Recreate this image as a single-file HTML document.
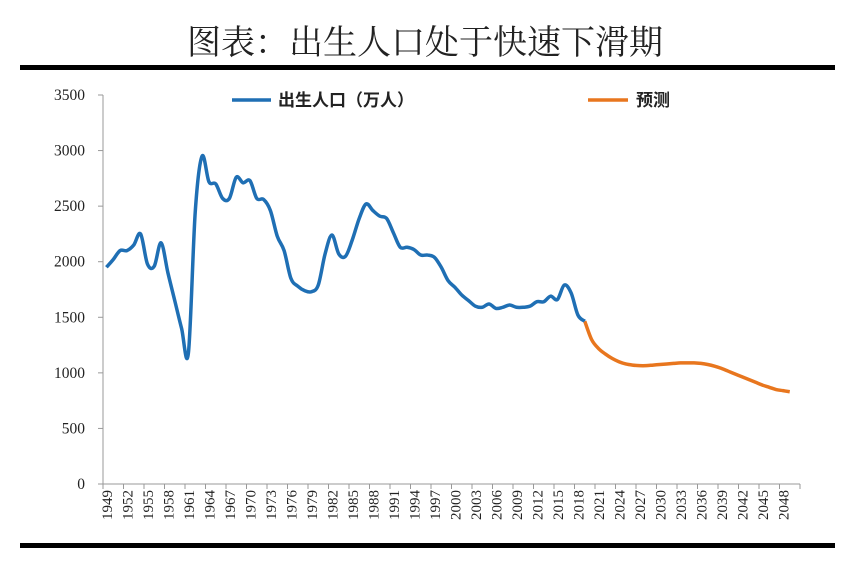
<!DOCTYPE html>
<html><head><meta charset="utf-8"><style>
body{margin:0;background:#fff;width:865px;height:563px;overflow:hidden}
svg{display:block}
</style></head><body>
<svg width="865" height="563" xmlns="http://www.w3.org/2000/svg">
<text x="425" y="54" text-anchor="middle" font-family="'Noto Serif CJK SC',serif" font-size="34" fill="#222">图表：出生人口处于快速下滑期</text>
<rect x="20" y="65" width="815" height="5" fill="#000"/>
<rect x="20" y="543" width="815" height="5" fill="#000"/>
<g id="axes"></g>
<g id="marks"></g>
<g>
<line x1="232" y1="100" x2="271" y2="100" stroke="#1f6fb4" stroke-width="3.5"/>
<text x="278" y="106" font-family="'Liberation Sans','Noto Sans CJK SC',sans-serif" font-weight="bold" font-size="17" fill="#222">出生人口（万人）</text>
<line x1="588" y1="100" x2="628" y2="100" stroke="#e8761e" stroke-width="3.5"/>
<text x="636" y="106" font-family="'Liberation Sans','Noto Sans CJK SC',sans-serif" font-weight="bold" font-size="17" fill="#222">预测</text>
</g>
</svg>
<script>
const startYear = 1949;
const endYear = 2050;
const yTicks = [0,500,1000,1500,2000,2500,3000,3500];
const births = [1950,2020,2100,2100,2150,2250,1980,1960,2170,1900,1650,1400,1180,2450,2950,2720,2700,2570,2570,2760,2710,2730,2570,2560,2460,2230,2100,1850,1780,1740,1730,1790,2070,2240,2070,2050,2200,2390,2520,2460,2410,2390,2260,2130,2130,2110,2060,2060,2040,1950,1830,1770,1700,1650,1600,1590,1620,1580,1590,1610,1590,1590,1600,1640,1640,1690,1660,1790,1720,1520,1465];
const forecastStart = 2019;
const forecast = [1465,1300,1220,1170,1130,1100,1080,1070,1065,1065,1070,1075,1080,1085,1090,1090,1090,1085,1075,1060,1040,1015,990,965,940,915,890,870,850,840,830];

const NS='http://www.w3.org/2000/svg';
const L=103,R=800,T=95,B=484,yMax=3500;
const n=endYear-startYear+1, bw=(R-L)/n;
const xs=yr=>L+(yr-startYear+0.5)*bw;
const ys=v=>B-v/yMax*(B-T);
function mk(tag,attrs,parent){const e=document.createElementNS(NS,tag);for(const k in attrs)e.setAttribute(k,attrs[k]);parent.appendChild(e);return e;}
const axes=document.getElementById('axes'), marks=document.getElementById('marks');
const serif="'Liberation Serif','Noto Serif CJK SC',serif";
let e=mk('line',{x1:L,y1:T,x2:L,y2:B,stroke:'#999','stroke-width':1},axes);


e=mk('line',{x1:L,y1:B,x2:R,y2:B,stroke:'#999','stroke-width':1},axes);


yTicks.forEach(v=>{
  const t=mk('line',{x1:L-5,y1:ys(v),x2:L,y2:ys(v),stroke:'#999'},axes);
  
  
  const tx=mk('text',{x:85,y:ys(v)+5,'text-anchor':'end','font-family':serif,'font-size':15.5,fill:'#222'},axes);
  tx.textContent=v;
  
  
});
for(let i=0;i<=n;i+=3){
  const x=L+i*bw;
  const t=mk('line',{x1:x,y1:B,x2:x,y2:B+5,stroke:'#999'},axes);
  
  
}
for(let yr=startYear;yr<=endYear;yr+=3){
  const x=xs(yr)+5.5;
  const tx=mk('text',{x:0,y:0,transform:`translate(${x},${B+6}) rotate(-90)`,'text-anchor':'end','font-family':serif,'font-size':15,fill:'#222'},axes);
  tx.textContent=yr;
  
  
}
function smooth(pts){
  let d=`M${pts[0][0]},${pts[0][1]}`;
  for(let i=0;i<pts.length-1;i++){
    const p0=pts[i-1]||pts[i],p1=pts[i],p2=pts[i+1],p3=pts[i+2]||p2;
    const c1=[p1[0]+(p2[0]-p0[0])/6,p1[1]+(p2[1]-p0[1])/6];
    const c2=[p2[0]-(p3[0]-p1[0])/6,p2[1]-(p3[1]-p1[1])/6];
    d+=`C${c1[0]},${c1[1]} ${c2[0]},${c2[1]} ${p2[0]},${p2[1]}`;
  }
  return d;
}
const p1=births.map((v,i)=>[xs(startYear+i),ys(v)]);
const p2=forecast.map((v,i)=>[xs(forecastStart+i),ys(v)]);
e=mk('path',{d:smooth(p2),fill:'none',stroke:'#e8761e','stroke-width':3.5,'stroke-linejoin':'round'},marks);


e=mk('path',{d:smooth(p1),fill:'none',stroke:'#1f6fb4','stroke-width':3.5,'stroke-linejoin':'round'},marks);


</script>
</body></html>
